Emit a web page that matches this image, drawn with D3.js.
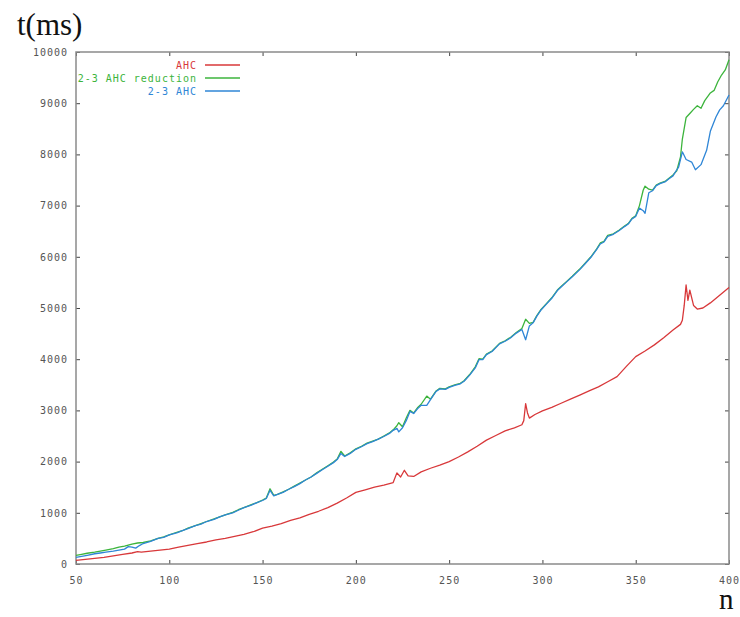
<!DOCTYPE html>
<html>
<head>
<meta charset="utf-8">
<script src="https://cdn.jsdelivr.net/npm/d3@7"></script>
<style>
  body { margin: 0; background: #fff; }
  .tick text { font-family: "DejaVu Sans Mono", monospace; font-size: 10px; fill: #555; letter-spacing: 1px; }
  .tick line { stroke: #444; }
</style>
</head>
<body>
<div id="chart"></div>
<script>
// values: [n, t(ms)]
var ahc = [[50,70],[55,90],[60,110],[65,130],[70,160],[75,190],[80,215],[83,240],[85,230],[90,250],[95,270],[100,290],
  [105,330],[110,365],[115,400],[120,430],[125,470],[130,500],[135,540],[140,580],[145,630],[150,700],[155,740],
  [160,790],[165,850],[170,900],[175,970],[180,1030],[185,1100],[190,1190],[195,1290],[200,1400],[205,1450],
  [210,1500],[215,1540],[220,1590],[222,1780],[224,1700],[226,1830],[228,1720],[231,1710],[235,1800],[240,1870],
  [245,1930],[250,2000],[255,2090],[260,2190],[265,2300],[270,2420],[275,2510],[280,2600],[285,2660],[289,2720],
  [290,2800],[291,3130],[292,2950],[293,2850],[296,2920],[300,2990],[305,3060],[310,3140],[315,3220],[320,3300],
  [325,3380],[330,3460],[335,3560],[340,3660],[345,3860],[350,4050],[355,4160],[360,4280],[365,4420],[370,4570],
  [374,4680],[375,4760],[376,5050],[377,5450],[378,5150],[379,5350],[381,5050],[383,4980],[386,5000],[390,5100],
  [395,5250],[400,5400]];

var reduction = [[50,170],[53,190],[56,210],[60,230],[63,250],[66,270],[70,300],[73,330],[76,350],[80,390],[83,410],
  [86,420],[90,450],[94,500],[97,530],[100,570],[104,620],[107,650],[110,700],[114,750],[117,790],[120,830],
  [124,880],[127,920],[130,960],[134,1010],[137,1060],[140,1100],[144,1160],[147,1200],[150,1250],[152,1290],
  [154,1470],[156,1340],[158,1360],[161,1410],[164,1460],[167,1520],[170,1580],[173,1640],[176,1700],[179,1780],
  [182,1850],[185,1920],[188,1990],[190,2050],[192,2200],[194,2110],[197,2170],[200,2250],[203,2300],[206,2360],
  [209,2400],[212,2440],[215,2500],[218,2560],[220,2620],[222,2700],[223,2760],[225,2680],[227,2850],[229,3000],
  [231,2950],[233,3050],[235,3120],[238,3280],[240,3220],[243,3380],[245,3430],[248,3420],[250,3460],[253,3500],
  [256,3530],[258,3580],[261,3700],[264,3850],[266,4010],[268,4000],[270,4100],[273,4160],[277,4310],[280,4360],
  [283,4430],[286,4520],[289,4600],[291,4780],[293,4700],[295,4720],[297,4850],[299,4960],[302,5080],[305,5200],
  [308,5350],[310,5420],[313,5520],[316,5620],[320,5760],[323,5880],[326,6000],[329,6150],[331,6270],[333,6300],
  [335,6420],[338,6450],[341,6520],[344,6600],[346,6650],[348,6750],[350,6800],[352,7000],[354,7300],[355,7380],
  [357,7320],[359,7300],[361,7400],[363,7440],[366,7480],[368,7540],[370,7600],[372,7680],[374,7950],[375,8300],
  [377,8720],[379,8800],[381,8880],[383,8950],[385,8900],[387,9050],[390,9200],[392,9250],[394,9420],[396,9550],
  [398,9650],[400,9850]];

var ahc23 = [[50,130],[53,150],[56,170],[60,200],[63,215],[66,230],[70,250],[73,270],[76,290],[78,340],[80,330],
  [82,310],[84,360],[86,400],[90,440],[94,500],[97,520],[100,570],[104,610],[107,650],[110,690],[114,750],[117,780],
  [120,830],[124,870],[127,920],[130,960],[134,1000],[137,1050],[140,1100],[144,1150],[147,1200],[150,1240],
  [152,1280],[154,1440],[156,1330],[158,1360],[161,1400],[164,1460],[167,1510],[170,1570],[173,1640],[176,1700],
  [179,1770],[182,1840],[185,1910],[188,1980],[190,2040],[192,2160],[194,2100],[197,2160],[200,2240],[203,2290],
  [206,2350],[209,2390],[212,2440],[215,2490],[218,2550],[220,2610],[222,2650],[223,2580],[225,2660],[227,2800],
  [229,2980],[231,2940],[233,3030],[235,3100],[238,3100],[240,3210],[243,3370],[245,3420],[248,3410],[250,3450],
  [253,3490],[256,3520],[258,3570],[261,3690],[264,3830],[266,3990],[268,3990],[270,4090],[273,4150],[277,4300],
  [280,4350],[283,4420],[286,4510],[289,4580],[291,4380],[293,4650],[295,4710],[297,4840],[299,4950],[302,5070],
  [305,5190],[308,5340],[310,5410],[313,5510],[316,5610],[320,5750],[323,5870],[326,5990],[329,6140],[331,6250],
  [333,6290],[335,6400],[338,6440],[341,6510],[344,6590],[346,6640],[348,6740],[350,6790],[352,6950],[354,6900],
  [355,6850],[357,7250],[359,7290],[361,7390],[363,7430],[366,7470],[368,7530],[370,7580],[372,7700],[373,7750],
  [375,8050],[377,7900],[380,7850],[382,7700],[385,7800],[388,8080],[390,8450],[393,8730],[395,8870],[397,8950],
  [400,9160]];

var xTicks = [50, 100, 150, 200, 250, 300, 350, 400];
var yTicks = [0, 1000, 2000, 3000, 4000, 5000, 6000, 7000, 8000, 9000, 10000];

var series = [
  {name: "AHC", data: ahc, color: "#d8383a"},
  {name: "2-3 AHC reduction", data: reduction, color: "#3cb43c"},
  {name: "2-3 AHC", data: ahc23, color: "#2f86d6"}
];

var plot = {left: 76, right: 729, top: 52, bottom: 564};

var svg = d3.select("#chart").append("svg")
    .attr("width", 740)
    .attr("height", 617);

var x = d3.scaleLinear().domain([50, 400]).range([plot.left, plot.right]);
var y = d3.scaleLinear().domain([0, 10000]).range([plot.bottom, plot.top]);

svg.append("g")
    .attr("transform", "translate(0," + plot.bottom + ")")
    .call(d3.axisBottom(x).tickValues(xTicks).tickFormat(d3.format("d")).tickSize(-4).tickPadding(13))
    .call(g => g.select(".domain").remove());

svg.append("g")
    .attr("transform", "translate(0," + plot.top + ")")
    .call(d3.axisTop(x).tickValues(xTicks).tickSize(-4).tickFormat(""))
    .call(g => g.select(".domain").remove());

svg.append("g")
    .attr("transform", "translate(" + plot.left + ",0)")
    .call(d3.axisLeft(y).tickValues(yTicks).tickFormat(d3.format("d")).tickSize(-4).tickPadding(8))
    .call(g => g.select(".domain").remove());

svg.append("g")
    .attr("transform", "translate(" + plot.right + ",0)")
    .call(d3.axisRight(y).tickValues(yTicks).tickSize(-4).tickFormat(""))
    .call(g => g.select(".domain").remove());

svg.append("rect")
    .attr("x", plot.left)
    .attr("y", plot.top)
    .attr("width", plot.right - plot.left)
    .attr("height", plot.bottom - plot.top)
    .attr("fill", "none")
    .attr("stroke", "#8a8a8a")
    .attr("stroke-width", 1.5);

var line = d3.line()
    .x(function(d) { return x(d[0]); })
    .y(function(d) { return y(d[1]); });

series.forEach(function(s) {
  svg.append("path")
      .datum(s.data)
      .attr("fill", "none")
      .attr("stroke", s.color)
      .attr("stroke-width", 1.3)
      .attr("stroke-linejoin", "round")
      .attr("d", line);
});

// legend, top left inside the frame
var legend = svg.append("g").attr("class", "legend");
series.forEach(function(s, i) {
  var ly = 65 + i * 13;
  legend.append("text")
      .attr("x", 197)
      .attr("y", ly)
      .attr("dy", "0.35em")
      .attr("text-anchor", "end")
      .style("font-family", "'DejaVu Sans Mono', monospace")
      .style("font-size", "10px")
      .style("letter-spacing", "1px")
      .attr("fill", s.color)
      .text(s.name);
  legend.append("line")
      .attr("x1", 205)
      .attr("x2", 240)
      .attr("y1", ly)
      .attr("y2", ly)
      .attr("stroke", s.color)
      .attr("stroke-width", 1.3);
});

svg.append("text")
    .attr("x", 17)
    .attr("y", 35)
    .style("font-family", "'Liberation Serif', 'Times New Roman', serif")
    .style("font-size", "31px")
    .attr("fill", "#111")
    .text("t(ms)");

svg.append("text")
    .attr("x", 719)
    .attr("y", 609)
    .style("font-family", "'Liberation Serif', 'Times New Roman', serif")
    .style("font-size", "29px")
    .attr("fill", "#111")
    .text("n");
</script>
</body>
</html>
